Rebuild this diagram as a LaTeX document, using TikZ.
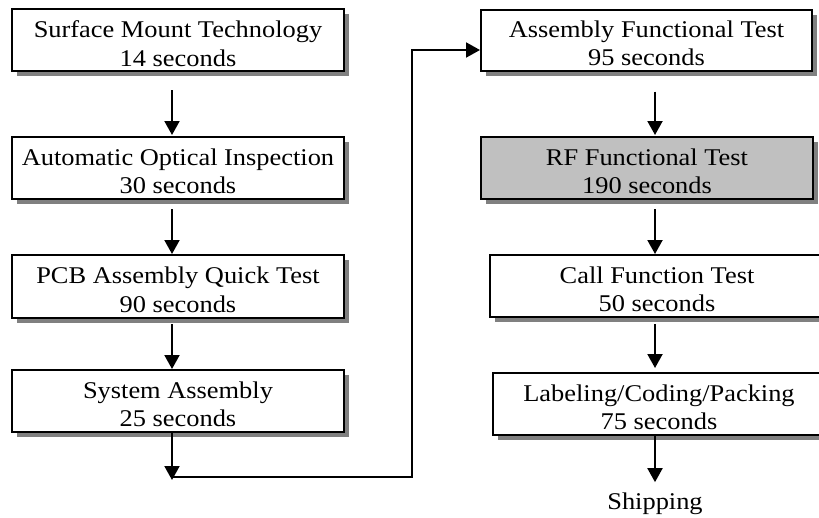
\documentclass[tikz,border=0pt]{standalone}
\usepackage{fontspec}
\setmainfont[FakeStretch=1.1]{Liberation Serif}
\usetikzlibrary{arrows.meta,shadows}
\begin{document}
\begin{tikzpicture}[x=1pt,y=-1pt,
  box/.style={draw=black, line width=2pt, fill=white, inner sep=0pt,
    drop shadow={shadow xshift=5pt, shadow yshift=-5pt, fill=black!50, opacity=1}},
  txt/.style={inner sep=0pt, align=center, font=\fontsize{24}{28.5}\selectfont, yshift=-3.5pt},
  arr/.style={line width=2pt, line join=miter, -{Triangle[width=15pt,length=14pt]}},
  lbl/.style={inner sep=0pt, font=\fontsize{24}{28.5}\selectfont}
]
\useasboundingbox (0,0) rectangle (819,517);
\fill[white] (0,0) rectangle (819,517);
\coordinate (lx) at (172,0);
\coordinate (rx) at (655,0);

\node[box, minimum width=332pt, minimum height=62pt] (b1) at (178,40) {};
\node[box, minimum width=332pt, minimum height=62pt] (b2) at (178,168) {};
\node[box, minimum width=332pt, minimum height=63pt] (b3) at (178,286.5) {};
\node[box, minimum width=332pt, minimum height=62pt] (b4) at (178,401) {};
\node[box, minimum width=331pt, minimum height=61pt] (b5) at (646.5,40) {};
\node[box, fill={rgb,255:red,192;green,192;blue,192}, minimum width=332pt, minimum height=62pt] (b6) at (647,168) {};
\node[box, minimum width=334pt, minimum height=62pt] (b7) at (657,286) {};
\node[box, minimum width=332pt, minimum height=62pt] (b8) at (659,404) {};

\node[txt] (t1) at (b1) {Surface Mount Technology\\14 seconds};
\node[txt] (t2) at (b2) {Automatic Optical Inspection\\30 seconds};
\node[txt] (t3) at (b3) {PCB Assembly Quick Test\\90 seconds};
\node[txt] (t4) at (b4) {System Assembly\\25 seconds};
\node[txt] (t5) at (b5) {Assembly Functional Test\\95 seconds};
\node[txt] (t6) at (b6) {RF Functional Test\\190 seconds};
\node[txt] (t7) at (b7) {Call Function Test\\50 seconds};
\node[txt] (t8) at (b8) {Labeling/Coding/Packing\\75 seconds};
\node[lbl, anchor=base] (ship) at (655,509) {Shipping};

\draw[arr, shorten <=18pt, shorten >=1pt] (b1.south -| lx) -- (b2.north -| lx);
\draw[arr, shorten <=9pt] (b2.south -| lx) -- (b3.north -| lx);
\draw[arr, shorten <=5pt] (b3.south -| lx) -- (b4.north -| lx);
\coordinate (c1) at (172,480);
\coordinate (c2) at (412,50);
\draw[arr] (b4.south -| lx) -- (c1);
\draw[arr] ([yshift=3pt]c1) -| (c2) -- (b5.west |- c2);

\draw[arr, shorten <=20pt, shorten >=1pt] (b5.south -| rx) -- (b6.north -| rx);
\draw[arr, shorten <=9pt] (b6.south -| rx) -- (b7.north -| rx);
\draw[arr, shorten <=6pt, shorten >=4pt] (b7.south -| rx) -- (b8.north -| rx);
\draw[arr, shorten >=10pt] (b8.south -| rx) -- (ship.north -| rx);
\end{tikzpicture}
\end{document}
